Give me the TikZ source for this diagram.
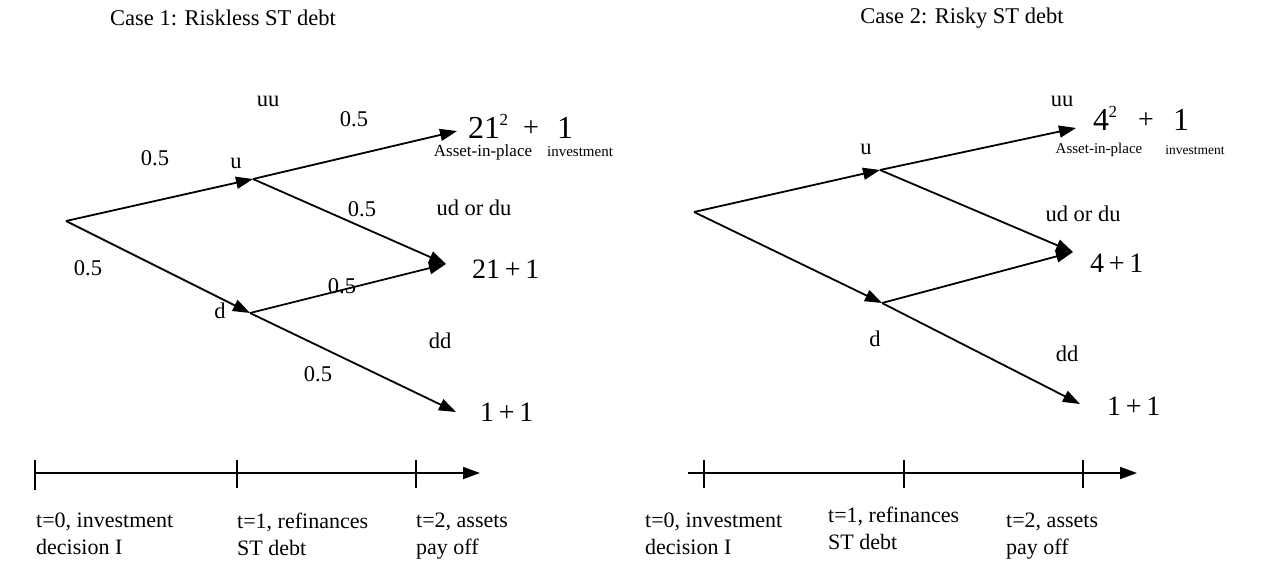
\documentclass[tikz,border=0pt]{standalone}
\usepackage{fontspec}
\setmainfont{Liberation Serif}
\usetikzlibrary{arrows.meta}
\begin{document}
\begin{tikzpicture}[x=1pt,y=-1pt,
  br/.style={line width=1.8pt,-{Triangle[length=17pt,width=12pt]}},
  lbl/.style={font=\fontsize{22.5}{26}\selectfont, inner sep=0pt},
  res/.style={font=\fontsize{28}{32}\selectfont, inner sep=0pt},
  big/.style={font=\fontsize{32}{36}\selectfont, inner sep=0pt},
  supr/.style={font=\fontsize{17}{18}\selectfont, inner sep=0pt},
  tl/.style={font=\fontsize{22}{27}\selectfont, align=left, inner sep=0pt, anchor=north west},
  tickline/.style={line width=1.8pt}]
\useasboundingbox (0,0) rectangle (1275,576);
% ---------- Case 1 ----------
\node[lbl] (title1) at (223,18) {Case 1: Riskless ST debt};
\coordinate (R1) at (66,221);
\coordinate (U1) at (253,179);
\coordinate (D1) at (250,313);
\coordinate (UU1) at (457,131);
\coordinate (UD1) at (446,264);
\coordinate (DD1) at (456,412);
\draw[br] (R1) -- (U1);
\draw[br] (R1) -- (D1);
\draw[br] (U1) -- (UU1);
\draw[br] (U1) -- (UD1);
\draw[br] (D1) -- (UD1);
\draw[br] (D1) -- (DD1);
\node[lbl] (luu1) at (268,101) {uu};
\node[lbl] (lu1) at (236,163) {u};
\node[lbl] (ld1) at (220,311) {d};
\node[lbl] (p1) at (155,158) {0.5};
\node[lbl] (p2) at (354,119) {0.5};
\node[lbl] (p3) at (362,209) {0.5};
\node[lbl] (p4) at (88,268) {0.5};
\node[lbl] (p5) at (342,286) {0.5};
\node[lbl] (p6) at (318,374) {0.5};
\node[lbl] (lud1) at (474,208) {ud or du};
\node[lbl] (ldd1) at (440,341) {dd};
\node[res,anchor=west] (v21) at (472,269) {21\,+\,1};
\node[res,anchor=west] (v11) at (480,412) {1\,+\,1};
\node[big,anchor=west] (a1) at (468,128) {21};
\node[supr,anchor=west] (e1) at (a1.east) [yshift=8pt,xshift=-1pt] {2};
\node[font=\fontsize{17}{18}\selectfont,inner sep=0pt] (s1) at (483,152) {Asset-in-place};
\node[res] (plus1) at (531,129) {+};
\node[big] (one1) at (565,128) {1};
\node[font=\fontsize{15}{16}\selectfont,inner sep=0pt] (i1) at (580,152) {investment};
% timeline 1
\coordinate (TA1) at (35,473);
\coordinate (TB1) at (480,473);
\draw[br] (TA1) -- (TB1);
\draw[tickline] (35,460) -- (35,490);
\draw[tickline] (237,460) -- (237,488);
\draw[tickline] (416,460) -- (416,488);
\node[tl] (tz1) at (36,513) {t=0, investment\\decision I};
\node[tl] (to1) at (237,513) {t=1, refinances\\ST debt};
\node[tl] (tt1) at (416,513) {t=2, assets\\pay off};
% ---------- Case 2 ----------
\node[lbl] (title2) at (962,18) {Case 2: Risky ST debt};
\coordinate (R2) at (694,212);
\coordinate (U2) at (880,170);
\coordinate (D2) at (882,303);
\coordinate (UU2) at (1076,128);
\coordinate (UD2) at (1073,252);
\coordinate (DD2) at (1080,404);
\draw[br] (R2) -- (U2);
\draw[br] (R2) -- (D2);
\draw[br] (U2) -- (UU2);
\draw[br] (U2) -- (UD2);
\draw[br] (D2) -- (UD2);
\draw[br] (D2) -- (DD2);
\node[lbl] (luu2) at (1062,101) {uu};
\node[lbl] (lu2) at (866,149) {u};
\node[lbl] (ld2) at (875,339) {d};
\node[lbl] (lud2) at (1083,214) {ud or du};
\node[lbl] (ldd2) at (1067,354) {dd};
\node[res,anchor=west] (v41) at (1090,263) {4\,+\,1};
\node[res,anchor=west] (v12) at (1107,406) {1\,+\,1};
\node[big,anchor=west] (a2) at (1093,120) {4};
\node[supr,anchor=west] (e2) at (a2.east) [yshift=8pt,xshift=-1pt] {2};
\node[font=\fontsize{15}{16}\selectfont,inner sep=0pt] (s2) at (1099,150) {Asset-in-place};
\node[res] (plus2) at (1146,121) {+};
\node[big] (one2) at (1181,120) {1};
\node[font=\fontsize{13.5}{15}\selectfont,inner sep=0pt] (i2) at (1195,150) {investment};
% timeline 2
\coordinate (TA2) at (688,473);
\coordinate (TB2) at (1137,473);
\draw[br] (TA2) -- (TB2);
\draw[tickline] (704,460) -- (704,488);
\draw[tickline] (904,460) -- (904,488);
\draw[tickline] (1083,460) -- (1083,488);
\node[tl] (tz2) at (645,513) {t=0, investment\\decision I};
\node[tl] (to2) at (828,507) {t=1, refinances\\ST debt};
\node[tl] (tt2) at (1006,513) {t=2, assets\\pay off};
\end{tikzpicture}
\end{document}
